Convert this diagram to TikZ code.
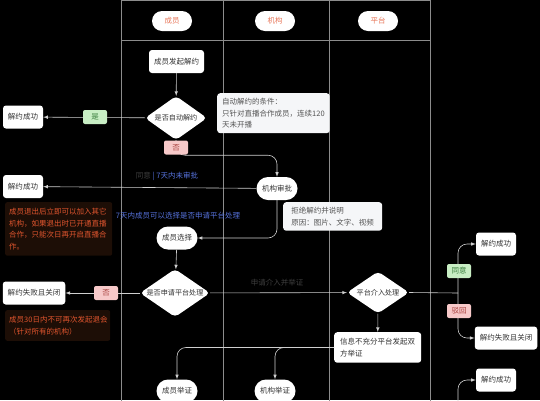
\documentclass[tikz,border=0pt]{standalone}
\usepackage{fontspec}
\setmainfont{Noto Sans CJK SC}
\usepackage{tikz}
\usetikzlibrary{shapes.geometric}

\definecolor{lanegray}{HTML}{8C8C8C}
\definecolor{linegray}{HTML}{CFCFCF}
\definecolor{txtdark}{HTML}{333333}
\definecolor{notegray}{HTML}{555555}
\definecolor{notebg}{HTML}{F5F6F8}
\definecolor{headorange}{HTML}{E8775A}
\definecolor{yesbg}{HTML}{C8EEC4}
\definecolor{yestxt}{HTML}{3B7F3E}
\definecolor{nobg}{HTML}{F7C9C9}
\definecolor{notxt}{HTML}{A8413E}
\definecolor{hintblue}{HTML}{5672DC}
\definecolor{warnbg}{HTML}{1D0E06}
\definecolor{warntxt}{HTML}{E0552E}
\definecolor{dimtxt}{HTML}{3E3E3E}

\begin{document}
\begin{tikzpicture}[x=1pt,y=-1pt,
    font=\fontsize{7.5}{11.5}\selectfont,
    box/.style={fill=white,rounded corners=3pt,text=txtdark,minimum height=23pt,inner xsep=5pt},
    pill/.style={fill=white,rounded corners=11.5pt,text=txtdark,minimum height=23pt,minimum width=41pt},
    headpill/.style={fill=white,rounded corners=10pt,text=headorange,minimum height=20pt,minimum width=40pt},
    decide/.style={diamond,fill=white,rounded corners=4pt,inner sep=0pt,
      label={[text=txtdark,font=\fontsize{7.1}{9}\selectfont]center:#1}},
    note/.style={fill=notebg,rounded corners=3pt,text=notegray,align=left,inner sep=5pt,anchor=north west},
    warn/.style={fill=warnbg,rounded corners=2pt,text=warntxt,align=left,inner xsep=4pt,inner ysep=6pt,anchor=north west},
    oklabel/.style={fill=yesbg,text=yestxt,rounded corners=2pt,minimum width=24pt,minimum height=14pt,inner sep=0pt},
    nolabel/.style={fill=nobg,text=notxt,rounded corners=2pt,minimum width=24pt,minimum height=14pt,inner sep=0pt},
    flow/.style={draw=linegray,line width=0.6pt,-latex},
    lane/.style={draw=lanegray,line width=0.6pt}]

    \clip (0,0) rectangle (540,400); % Clips the picture...
    \fill[black] (0,0) rectangle (540,400);

    % swim lanes
    \draw[lane] (121,0.5) rectangle (430,410);
    \draw[lane] (121,40) -- (430,40);
    \foreach \x in {223,329}{%
      \draw[lane] (\x,0.5) -- (\x,410);
    }
    \foreach \x/\name/\t in {172/hcy/成员,275/hjg/机构,378/hpt/平台}{%
      \node[headpill] (\name) at (\x,21) {\t};
    }

    % member lane
    \node[box] (start) at (176.5,61.5) {成员发起解约};
    \node[decide=是否自动解约,minimum width=62pt,minimum height=44pt] (auto) at (176,118) {};
    \node[pill] (cyxz) at (177,238) {成员选择};
    \node[decide=是否申请平台处理,minimum width=70pt,minimum height=48pt] (apply) at (175,293) {};
    \node[pill] (cyjz) at (177,391) {成员举证};

    % org lane
    \node[note] (cond) at (217,93) {自动解约的条件：\\只针对直播合作成员，连续120\\天未开播};
    \node[pill] (jgsp) at (277,188.5) {机构审批};
    \node[note,minimum width=99pt] (reject) at (283,202) {拒绝解约并说明\\原因：图片、文字、视频};
    \node[pill] (jgjz) at (275,391) {机构举证};

    % platform lane
    \node[decide=平台介入处理,minimum width=62pt,minimum height=42pt] (ptjr) at (378,292.5) {};
    \node[box,anchor=north west,align=left,inner sep=6pt] (info) at (334,332) {信息不充分平台发起双\\方举证};

    % results outside the lanes
    \node[box] (ok1) at (23,117) {解约成功};
    \node[box] (ok2) at (23,186.5) {解约成功};
    \node[box] (fail1) at (34,293) {解约失败且关闭};
    \node[box] (ok3) at (496,244) {解约成功};
    \node[box] (fail3) at (506,338) {解约失败且关闭};
    \node[box] (ok4) at (496,380) {解约成功};
    \node[warn,text width=99pt] (warn1) at (5,202) {成员退出后立即可以加入其它\\机构，如果退出时已开通直播\\合作，只能次日再开启直播合\\作。};
    \node[warn,text width=97pt] (warn2) at (5,310) {成员30日内不可再次发起退会\\（针对所有的机构）};

    \coordinate (fork) at (458,293);
    \coordinate (fork2) at (458,405);

    % connectors
    \draw[flow] (start) -- (auto);
    \draw[flow] (auto) -- (ok1);
    \draw[flow,rounded corners=9pt] (auto.south) -- ++(0,15) -| (jgsp.north);
    \draw[flow] (jgsp) -- (ok2);
    \draw[flow,rounded corners=9pt] (jgsp.south) |- (cyxz.east);
    \draw[flow] (cyxz) -- (apply);
    \draw[flow] (apply) -- (fail1);
    \draw[flow] (apply) -- (ptjr);
    \draw[draw=linegray,line width=0.6pt] (ptjr.east) -- (fork);
    \draw[flow,rounded corners=9pt] (fork) |- (ok3.west);
    \draw[flow,rounded corners=9pt] (fork) |- (fail3.west);
    \draw[flow] (ptjr) -- (info);
    \draw[flow,rounded corners=9pt] (info.west) -| (cyjz.north);
    \draw[flow,rounded corners=9pt] (info.west) -| (jgjz.north);
    \draw[flow,rounded corners=9pt] (fork2) |- (ok4.west);

    % labels on the connectors
    \node[oklabel] (yes1) at (95,117) {是};
    \node[nolabel] (no1) at (176,147.5) {否};
    \node[nolabel] (no2) at (106,293) {否};
    \node[oklabel] (yes3) at (459,271) {同意};
    \node[nolabel] (no3) at (459,311) {驳回};
    \node[text=dimtxt] (applytxt) at (277,283) {申请介入并举证};
    \node (agreetxt) at (167,176) {\textcolor{dimtxt}{同意} \textcolor{hintblue}{| 7天内未审批}};
    \node[text=hintblue] (hint) at (178,216) {7天内成员可以选择是否申请平台处理};
\end{tikzpicture}
\end{document}
